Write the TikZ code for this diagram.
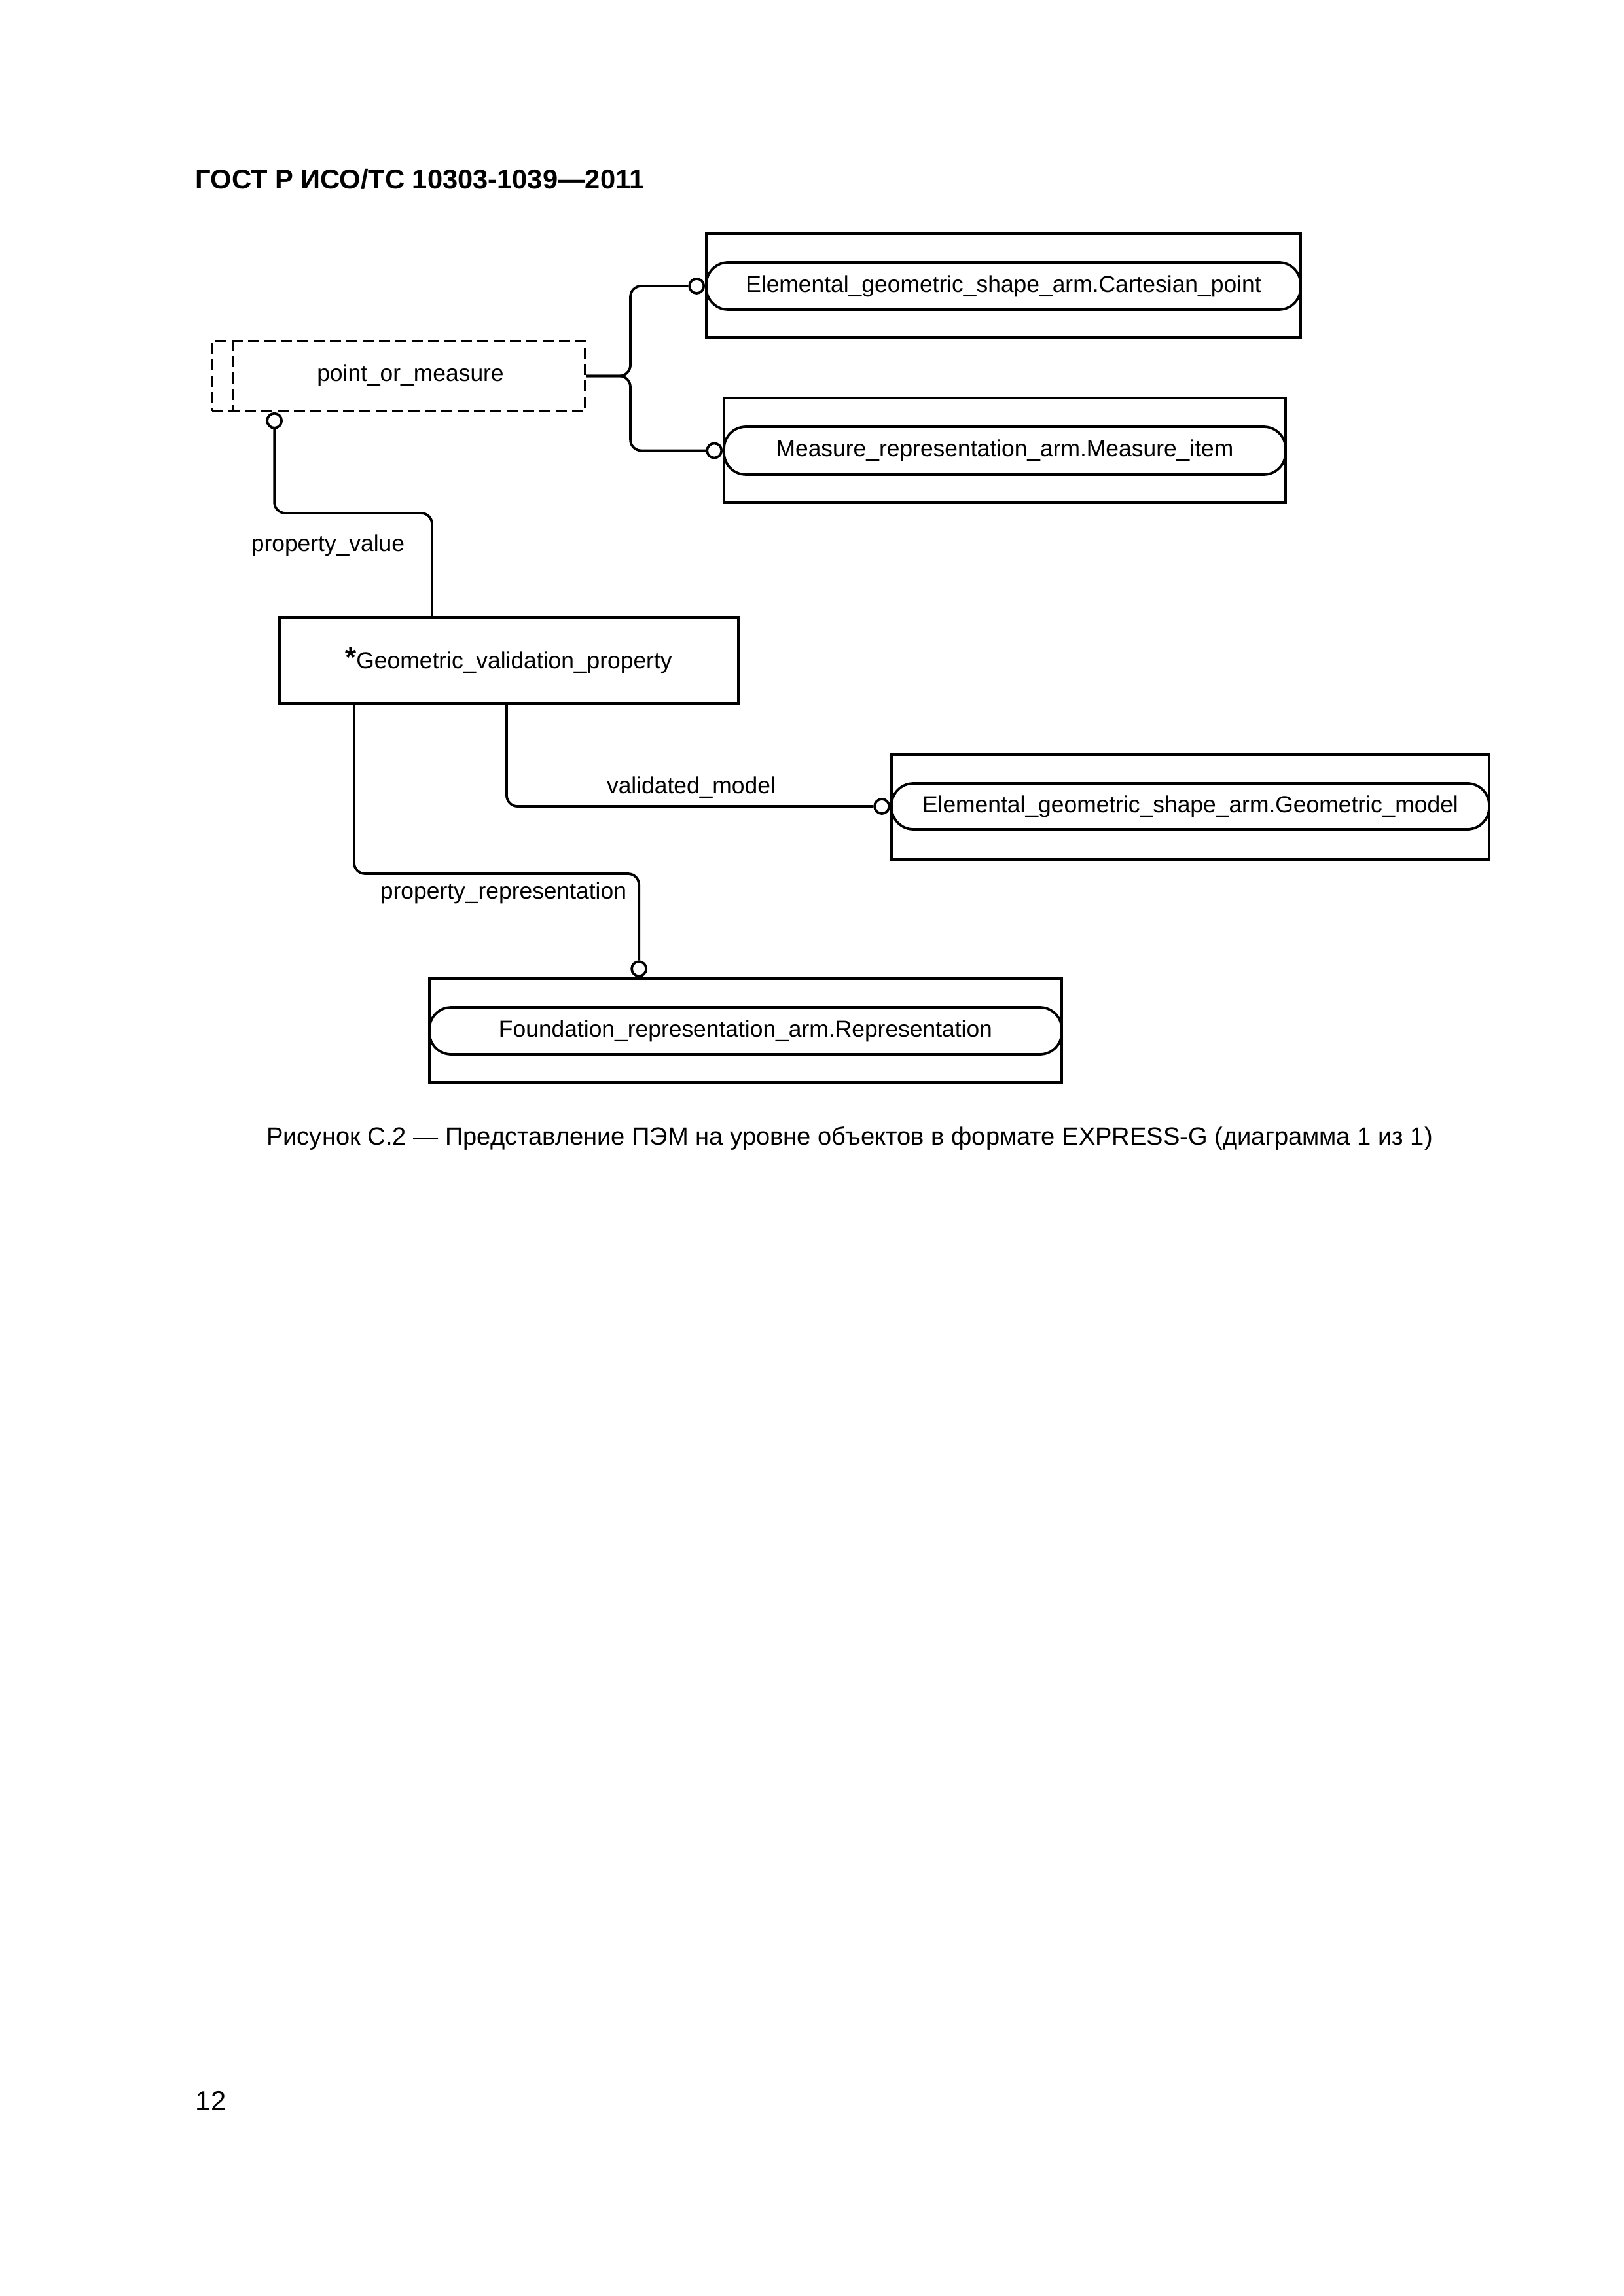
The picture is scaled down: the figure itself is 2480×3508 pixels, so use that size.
\documentclass[tikz,border=0pt]{standalone}
\usepackage{fontspec}
\setmainfont{Liberation Sans}
\usetikzlibrary{calc}
\begin{document}
\begin{tikzpicture}[x=0.24pt,y=-0.24pt,
  outer/.style={draw,line width=0.9pt,inner sep=0pt,minimum height=38.4pt},
  stad/.style={draw,line width=0.9pt,inner sep=0pt,minimum height=17.28pt,rounded corners=8pt,font=\fontsize{8.5}{10}\selectfont},
  ring/.style={draw,circle,line width=0.9pt,fill=white,inner sep=0pt,minimum size=5.3pt},
  conn/.style={line width=0.9pt,rounded corners=4pt},
  lbl/.style={inner sep=0pt,font=\fontsize{8.5}{10}\selectfont},
  dsh/.style={line width=0.9pt,dash pattern=on 4pt off 2pt}
]
\useasboundingbox (0,0) rectangle (2480,3508);

% header, caption, page number
\node[anchor=base west,inner sep=0pt,font=\bfseries\fontsize{10}{12}\selectfont] (hdr) at (298,289) {ГОСТ Р ИСО/ТС 10303-1039—2011};
\node[anchor=base,inner sep=0pt,font=\fontsize{9.15}{11}\selectfont] (cap) at (1298,1749) {Рисунок С.2 — Представление ПЭМ на уровне объектов в формате EXPRESS-G (диаграмма 1 из 1)};
\node[anchor=base west,inner sep=0pt,font=\fontsize{10}{12}\selectfont] (pg) at (298,3224) {12};

% point_or_measure (select type)
\node[draw,dsh,inner sep=0pt,minimum width=136.8pt,minimum height=25.68pt] (pom) at (609,574.5) {};
\draw[dsh] ($(pom.north west)+(34,0)$) -- ($(pom.south west)+(34,0)$);
\node[lbl] (pomt) at (627,573) {point\_or\_measure};

% Cartesian point
\node[outer,minimum width=217.92pt,minimum height=38.16pt] (cpo) at (1533,436.5) {};
\node[stad,minimum width=217.92pt] (cp) at (1533,437) {Elemental\_geometric\_shape\_arm.Cartesian\_point};

% Measure item
\node[outer,minimum width=205.92pt] (mio) at (1535,688) {};
\node[stad,minimum width=205.92pt,minimum height=17.5pt] (mi) at (1535,688.5) {Measure\_representation\_arm.Measure\_item};

% Geometric validation property
\node[draw,line width=0.9pt,inner sep=0pt,minimum width=168.24pt,minimum height=31.68pt] (gvp) at (777.5,1009) {};
\node[lbl] (gvpt) at (777,1009) {{\fontsize{10.5}{10}\selectfont\bfseries\raisebox{0.6pt}{*}}Geometric\_validation\_property};

% Geometric model
\node[outer,minimum width=219.12pt] (gmo) at (1818.5,1233) {};
\node[stad,minimum width=219.12pt,minimum height=16.8pt] (gm) at (1818.5,1232) {Elemental\_geometric\_shape\_arm.Geometric\_model};

% Representation
\node[outer,minimum width=231.84pt,minimum height=38.16pt] (fro) at (1139,1574.5) {};
\node[stad,minimum width=231.84pt] (fr) at (1139,1575) {Foundation\_representation\_arm.Representation};

% rings
\node[ring,anchor=east] (c1) at (cp.west) {};
\node[ring,anchor=east] (c2) at (mi.west) {};
\node[ring,anchor=north] (c3) at ($(pom.south west)+(97,0)$) {};
\node[ring,anchor=east] (c4) at (gm.west) {};
\node[ring,anchor=south] (c5) at ($(fro.north west)+(322,0)$) {};

% connectors
\coordinate (j1) at (963,574.5);
\draw[conn] (pom.east) -- (j1) |- (c1.west);
\draw[conn] (pom.east) -- (j1) |- (c2.west);

\coordinate (k1) at (660,784);
\draw[conn] (c3.south) |- (k1) -- (k1 |- gvp.north);

\coordinate (v1) at (774,1232);
\draw[conn] (v1 |- gvp.south) |- (c4.west);

\coordinate (p1) at (541,1335);
\draw[conn] (p1 |- gvp.south) -- (p1) -| (c5.north);

% labels
\node[lbl] (l1) at (501,833) {property\_value};
\node[lbl] (l2) at (1056,1203) {validated\_model};
\node[lbl] (l3) at (769,1364) {property\_representation};
\end{tikzpicture}
\end{document}
